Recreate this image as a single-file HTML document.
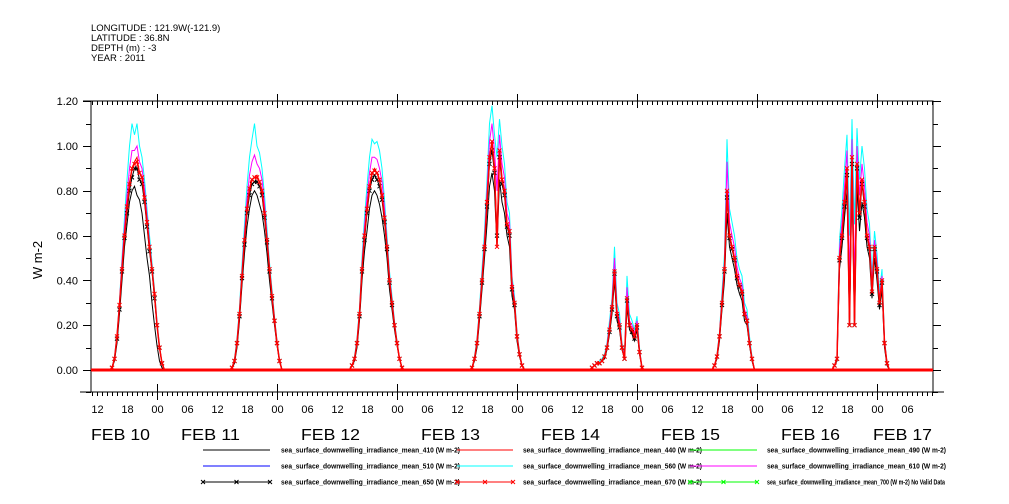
<!DOCTYPE html>
<html><head><meta charset="utf-8"><style>
body{margin:0;background:#fff;}
svg{display:block;font-family:"Liberation Sans",sans-serif;}
</style></head><body>
<svg id="chart" width="1009" height="504" viewBox="0 0 1009 504" xmlns="http://www.w3.org/2000/svg">
<g font-size="9.5" fill="#000">
<text x="91" y="31">LONGITUDE : 121.9W(-121.9)</text>
<text x="91" y="41">LATITUDE : 36.8N</text>
<text x="91" y="51">DEPTH (m) : -3</text>
<text x="91" y="61">YEAR : 2011</text>
</g>
<text transform="translate(42,260) rotate(-90)" text-anchor="middle" font-size="13">W m-2</text>
<g id="axes"></g>
<g id="series"></g>
<g id="legend"></g>
</svg>
<script>
const dayLabels=["FEB 10","FEB 11","FEB 12","FEB 13","FEB 14","FEB 15","FEB 16","FEB 17"];
const yTicks=[0,0.2,0.4,0.6,0.8,1.0,1.2];
const yTickLabels=["0.00","0.20","0.40","0.60","0.80","1.00","1.20"];
const hourLabels=["00","06","12","18"];
// half-hourly values 14:00..03:00 for each day Feb10..Feb16
const red440=[
[0,0,0.01,0.05,0.14,0.28,0.45,0.6,0.72,0.83,0.9,0.93,0.95,0.88,0.86,0.78,0.66,0.55,0.45,0.33,0.2,0.1,0.03,0,0,0,0],
[0,0,0.01,0.04,0.12,0.25,0.42,0.58,0.72,0.8,0.85,0.86,0.87,0.84,0.8,0.7,0.58,0.45,0.33,0.22,0.12,0.04,0,0,0,0,0],
[0,0,0.02,0.05,0.12,0.25,0.45,0.6,0.72,0.82,0.87,0.9,0.88,0.85,0.78,0.68,0.55,0.4,0.3,0.2,0.12,0.05,0.01,0,0,0,0],
[0,0,0.01,0.05,0.12,0.25,0.4,0.55,0.75,0.95,1.02,0.9,0.6,0.98,0.85,0.8,0.65,0.62,0.37,0.3,0.15,0.07,0.02,0,0,0,0],
[0,0,0.01,0.02,0.03,0.03,0.04,0.06,0.1,0.18,0.28,0.45,0.25,0.2,0.1,0.05,0.32,0.2,0.18,0.15,0.2,0.08,0.01,0,0,0,0],
[0,0,0,0.02,0.06,0.15,0.3,0.45,0.8,0.6,0.55,0.5,0.42,0.38,0.35,0.25,0.22,0.12,0.05,0,0,0,0,0,0,0,0],
[0,0,0,0.02,0.05,0.5,0.6,0.75,0.9,0.2,0.95,0.2,0.92,0.7,0.85,0.75,0.6,0.55,0.35,0.55,0.45,0.3,0.4,0.12,0.03,0,0]];
const cyan560=[
[0,0,0.01,0.06,0.16,0.31,0.5,0.68,0.85,1.0,1.1,1.05,1.1,1.0,0.95,0.85,0.72,0.6,0.48,0.36,0.22,0.11,0.03,0,0,0,0],
[0,0,0.01,0.05,0.14,0.28,0.47,0.65,0.82,0.95,1.03,1.1,1.0,0.97,0.9,0.78,0.63,0.48,0.36,0.24,0.13,0.05,0,0,0,0,0],
[0,0,0.02,0.06,0.14,0.28,0.5,0.68,0.82,0.95,1.03,1.01,1.02,0.98,0.9,0.76,0.6,0.44,0.33,0.22,0.13,0.05,0.01,0,0,0,0],
[0,0,0.01,0.06,0.14,0.28,0.45,0.62,0.85,1.1,1.18,1.05,0.95,1.12,1.0,0.92,0.75,0.7,0.42,0.33,0.17,0.08,0.02,0,0,0,0],
[0,0,0.01,0.02,0.03,0.04,0.05,0.07,0.12,0.22,0.32,0.55,0.3,0.25,0.12,0.07,0.42,0.25,0.22,0.18,0.24,0.1,0.01,0,0,0,0],
[0,0,0,0.02,0.07,0.17,0.35,0.52,1.03,0.72,0.66,0.6,0.5,0.45,0.42,0.3,0.27,0.15,0.06,0,0,0,0,0,0,0,0],
[0,0,0,0.02,0.06,0.58,0.72,0.9,1.05,0.6,1.12,0.65,1.08,0.85,1.0,0.9,0.72,0.65,0.42,0.62,0.52,0.35,0.45,0.14,0.03,0,0]];
const magenta610=[
[0,0,0.01,0.05,0.15,0.3,0.48,0.64,0.78,0.9,0.98,0.98,1.0,0.93,0.9,0.81,0.69,0.57,0.46,0.34,0.21,0.1,0.03,0,0,0,0],
[0,0,0.01,0.04,0.13,0.26,0.44,0.61,0.76,0.87,0.93,0.96,0.92,0.9,0.85,0.74,0.6,0.46,0.34,0.23,0.12,0.04,0,0,0,0,0],
[0,0,0.02,0.05,0.13,0.26,0.47,0.64,0.77,0.88,0.95,0.95,0.94,0.9,0.84,0.72,0.57,0.42,0.31,0.21,0.12,0.05,0.01,0,0,0,0],
[0,0,0.01,0.05,0.13,0.26,0.42,0.58,0.8,1.02,1.1,0.98,0.8,1.05,0.92,0.86,0.7,0.66,0.4,0.31,0.16,0.07,0.02,0,0,0,0],
[0,0,0.01,0.02,0.03,0.03,0.04,0.06,0.11,0.2,0.3,0.5,0.27,0.22,0.11,0.06,0.37,0.22,0.2,0.16,0.22,0.09,0.01,0,0,0,0],
[0,0,0,0.02,0.06,0.16,0.32,0.48,0.93,0.66,0.6,0.55,0.46,0.41,0.38,0.27,0.24,0.13,0.05,0,0,0,0,0,0,0,0],
[0,0,0,0.02,0.05,0.54,0.66,0.82,0.98,0.4,1.03,0.4,1.0,0.78,0.92,0.82,0.66,0.6,0.38,0.58,0.48,0.32,0.42,0.13,0.03,0,0]];
const black410=[
[0,0,0.01,0.04,0.12,0.25,0.4,0.55,0.65,0.75,0.8,0.82,0.78,0.76,0.7,0.6,0.5,0.42,0.3,0.2,0.11,0.04,0.01,0,0,0,0],
[0,0,0.01,0.03,0.1,0.22,0.38,0.52,0.64,0.72,0.78,0.8,0.78,0.74,0.7,0.62,0.52,0.4,0.3,0.2,0.11,0.04,0,0,0,0,0],
[0,0,0.02,0.04,0.1,0.22,0.4,0.53,0.62,0.72,0.78,0.8,0.78,0.74,0.68,0.6,0.5,0.36,0.27,0.18,0.11,0.05,0.01,0,0,0,0],
[0,0,0.01,0.04,0.1,0.22,0.36,0.5,0.65,0.82,0.88,0.8,0.55,0.85,0.75,0.7,0.6,0.55,0.33,0.27,0.13,0.06,0.02,0,0,0,0],
[0,0,0.01,0.02,0.03,0.03,0.04,0.05,0.09,0.16,0.25,0.4,0.22,0.18,0.09,0.05,0.28,0.18,0.16,0.13,0.18,0.07,0.01,0,0,0,0],
[0,0,0,0.02,0.05,0.13,0.27,0.4,0.7,0.55,0.5,0.45,0.38,0.34,0.31,0.22,0.2,0.11,0.04,0,0,0,0,0,0,0,0],
[0,0,0,0.02,0.04,0.45,0.55,0.68,0.8,0.2,0.85,0.2,0.82,0.62,0.75,0.68,0.55,0.5,0.32,0.5,0.4,0.27,0.36,0.1,0.02,0,0]];
const black650=[
[0,0,0.01,0.05,0.14,0.27,0.44,0.59,0.7,0.8,0.86,0.9,0.9,0.85,0.83,0.75,0.64,0.53,0.44,0.32,0.2,0.1,0.03,0,0,0,0],
[0,0,0.01,0.04,0.12,0.24,0.41,0.56,0.7,0.78,0.83,0.84,0.84,0.82,0.78,0.68,0.57,0.44,0.32,0.22,0.12,0.04,0,0,0,0,0],
[0,0,0.02,0.05,0.12,0.24,0.44,0.58,0.7,0.8,0.85,0.87,0.85,0.82,0.76,0.66,0.54,0.39,0.29,0.2,0.12,0.05,0.01,0,0,0,0],
[0,0,0.01,0.05,0.12,0.24,0.39,0.54,0.73,0.92,0.98,0.88,0.6,0.95,0.83,0.78,0.64,0.6,0.36,0.29,0.15,0.07,0.02,0,0,0,0],
[0,0,0.01,0.02,0.03,0.03,0.04,0.06,0.1,0.17,0.27,0.43,0.24,0.19,0.1,0.05,0.31,0.2,0.17,0.14,0.19,0.08,0.01,0,0,0,0],
[0,0,0,0.02,0.06,0.15,0.29,0.44,0.77,0.59,0.54,0.49,0.41,0.37,0.34,0.25,0.22,0.12,0.05,0,0,0,0,0,0,0,0],
[0,0,0,0.02,0.05,0.49,0.59,0.73,0.87,0.2,0.92,0.2,0.9,0.68,0.83,0.73,0.59,0.54,0.34,0.54,0.44,0.29,0.39,0.12,0.03,0,0]];
const red670=[
[0,0,0.01,0.05,0.15,0.29,0.45,0.6,0.73,0.83,0.9,0.92,0.93,0.88,0.86,0.77,0.66,0.55,0.45,0.34,0.2,0.1,0.03,0,0,0,0],
[0,0,0.01,0.04,0.12,0.25,0.42,0.58,0.72,0.81,0.85,0.86,0.86,0.84,0.8,0.7,0.58,0.45,0.33,0.22,0.12,0.04,0,0,0,0,0],
[0,0,0.02,0.05,0.12,0.25,0.45,0.6,0.72,0.82,0.88,0.89,0.88,0.85,0.78,0.68,0.55,0.4,0.3,0.2,0.12,0.05,0.01,0,0,0,0],
[0,0,0.01,0.05,0.12,0.25,0.4,0.55,0.75,0.95,1.02,0.9,0.55,0.98,0.85,0.8,0.65,0.62,0.37,0.3,0.15,0.07,0.02,0,0,0,0],
[0,0,0.01,0.02,0.03,0.03,0.04,0.06,0.1,0.18,0.28,0.44,0.25,0.2,0.1,0.05,0.32,0.2,0.18,0.15,0.2,0.08,0.01,0,0,0,0],
[0,0,0,0.02,0.06,0.15,0.3,0.45,0.8,0.6,0.55,0.5,0.42,0.38,0.35,0.25,0.22,0.12,0.05,0,0,0,0,0,0,0,0],
[0,0,0,0.02,0.05,0.5,0.6,0.75,0.9,0.2,0.95,0.2,0.92,0.7,0.85,0.75,0.6,0.55,0.35,0.55,0.45,0.3,0.4,0.12,0.03,0,0]];

const NS="http://www.w3.org/2000/svg";
const L=91,R=933,T=101,B=392;
const tMin=-1.2,tMax=167.2; // hours since Feb 10 12:00
const X=t=>L+(t-tMin)*(R-L)/(tMax-tMin);
const Y=v=>370-v*224;
function mk(tag,attrs,parent){const e=document.createElementNS(NS,tag);for(const k in attrs)e.setAttribute(k,attrs[k]);parent.appendChild(e);return e;}
const axes=document.getElementById('axes');
let f=mk('path',{d:`M${L},${T}H${R}V${B}H${L}Z M80,${B}H944 M83,${T}H${L}`,fill:'none',stroke:'#000','stroke-width':1},axes);


for(let v=-0.1;v<=1.201;v+=0.1){
  const y=Math.round(Y(v))+0.5, major=Math.abs(Math.round(v*10)%2)===0;
  const len=major?8:5;
  mk('line',{x1:L-len,x2:L,y1:y,y2:y,stroke:'#000'},axes);
  mk('line',{x1:R,x2:R+len,y1:y,y2:y,stroke:'#000'},axes);
}
yTicks.forEach((v,i)=>{
  const t=mk('text',{x:78,y:Y(v)+4,'text-anchor':'end','font-size':11},axes);
  t.textContent=yTickLabels[i];
  
  
});
for(let h=Math.ceil(tMin);h<=tMax;h++){
  const x=Math.round(X(h))+0.5, hod=((h+12)%24+24)%24;
  const major=hod===0;
  mk('line',{x1:x,x2:x,y1:T,y2:T+(major?7:4),stroke:'#000'},axes);
  mk('line',{x1:x,x2:x,y1:B,y2:B+(major?8:4),stroke:'#000'},axes);
  if(major){mk('line',{x1:x,x2:x,y1:T-7,y2:T,stroke:'#000'},axes);mk('line',{x1:x,x2:x,y1:B-8,y2:B,stroke:'#000'},axes);}
  if(hod%6===0){
    const t=mk('text',{x:x,y:413,'text-anchor':'middle','font-size':11},axes);
    t.textContent=hourLabels[hod/6];
    
    
  }
}
dayLabels.forEach((d,i)=>{
  const x=i===0?X(-1.2):(i===7?X(155.2):X(i*24-7.2));
  const t=mk('text',{x:x,y:440,'font-size':16,textLength:59,lengthAdjust:'spacingAndGlyphs'},axes);
  t.textContent=d;
  
  
});
const sg=document.getElementById('series');
function pts(arr){
  const p=[[tMin,0]];
  arr.forEach((day,d)=>day.forEach((v,i)=>p.push([d*24+2+i*0.5,v])));
  p.push([tMax,0]);return p;
}
function drawLine(arr,color,name,w){
  const p=pts(arr);
  const e=mk('path',{d:'M'+p.map(q=>X(q[0]).toFixed(1)+','+Y(q[1]).toFixed(1)).join('L'),fill:'none',stroke:color,'stroke-width':w||1},sg);
  
  
}
function drawMarks(arr,color,name){
  const g=mk('g',{stroke:color,'stroke-width':1},sg);
  
  
  pts(arr).forEach(q=>{if(q[1]>0){const x=X(q[0]),y=Y(q[1]);mk('path',{d:`M${x-2},${y-2}L${x+2},${y+2}M${x-2},${y+2}L${x+2},${y-2}`},g);}});
}
drawLine(cyan560,'#00ffff','series-560');
drawLine(magenta610,'#ff00ff','series-610');
drawLine(black410,'#000','series-410');
drawLine(black650,'#000','series-650');
drawMarks(black650,'#000','markers-650');
drawLine(red440,'#ff0000','series-440');
drawLine(red670,'#ff0000','series-670',1.5);
drawMarks(red670,'#ff0000','markers-670');
const bl=mk('line',{x1:L,x2:R,y1:370,y2:370,stroke:'#ff0000','stroke-width':3},sg);


const lg=document.getElementById('legend');
const cols=[[203,270,281],[457,513,523],[690,757,767]];
const items=[
["410","#000",0],["440","#ff0000",0],["490","#00ff00",0],
["510","#0000ff",0],["560","#00ffff",0],["610","#ff00ff",0],
["650","#000",1],["670","#ff0000",1],["700","#00ff00",1]];
items.forEach((it,i)=>{
  const c=cols[i%3],y=450+Math.floor(i/3)*16;
  const g=mk('g',{},lg);
  
  
  mk('line',{x1:c[0],x2:c[1],y1:y,y2:y,stroke:it[1]},g);
  if(it[2]){[c[0],(c[0]+c[1])/2,c[1]].forEach(x=>mk('path',{d:`M${x-2},${y-2}L${x+2},${y+2}M${x-2},${y+2}L${x+2},${y-2}`,stroke:it[1]},g));}
  const t=mk('text',{x:c[2],y:y+2.5,'font-size':7,'font-weight':'bold',textLength:it[0]==="700"?178:179,lengthAdjust:'spacingAndGlyphs'},g);
  t.textContent='sea_surface_downwelling_irradiance_mean_'+it[0]+(it[0]==="700"?' (W m-2) No Valid Data':' (W m-2)');
});
</script>
</body></html>
